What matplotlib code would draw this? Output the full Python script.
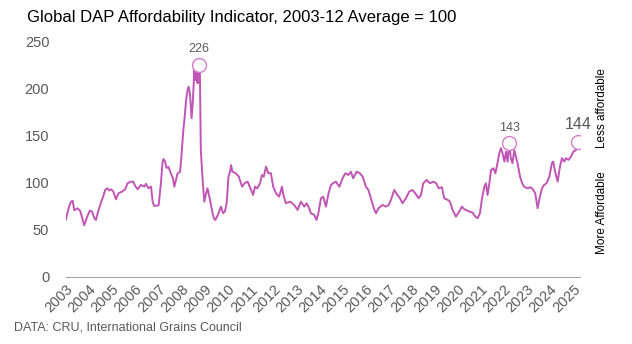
import numpy as np
import matplotlib as mpl
import matplotlib.pyplot as plt

# Plotting setup
mpl.rc('font',family=['Liberation Sans','DejaVu Sans'])
lncolor='#c055b5'
txcolor='#595959'

# DAP affordability index, 2003-12 average = 100
yrs=[2003.00,2003.04,2003.15,2003.22,2003.29,2003.36,2003.43,2003.50,2003.61,2003.69,
     2003.79,2003.87,2003.95,2004.04,2004.13,2004.23,2004.30,2004.41,2004.56,2004.62,
     2004.70,2004.80,2004.88,2004.95,2005.05,2005.17,2005.28,2005.43,2005.57,2005.67,
     2005.82,2005.92,2006.00,2006.11,2006.25,2006.40,2006.47,2006.58,2006.69,2006.76,
     2006.83,2006.95,2007.02,2007.08,2007.12,2007.19,2007.23,2007.30,2007.36,2007.45,
     2007.55,2007.64,2007.70,2007.78,2007.84,2007.95,2008.03,2008.09,2008.15,2008.21,
     2008.27,2008.32,2008.38,2008.45,2008.50,2008.57,2008.62,2008.66,2008.71,2008.75,
     2008.81,2008.85,2008.93,2009.00,2009.07,2009.14,2009.22,2009.30,2009.36,2009.42,
     2009.48,2009.55,2009.62,2009.72,2009.82,2009.90,2009.97,2010.05,2010.12,2010.16,
     2010.22,2010.37,2010.50,2010.64,2010.75,2010.88,2011.03,2011.12,2011.20,2011.30,
     2011.42,2011.50,2011.58,2011.68,2011.78,2011.89,2011.99,2012.11,2012.25,2012.37,
     2012.43,2012.54,2012.72,2012.90,2013.05,2013.19,2013.34,2013.44,2013.55,2013.62,
     2013.77,2013.87,2013.95,2014.06,2014.16,2014.28,2014.39,2014.50,2014.60,2014.71,
     2014.86,2015.00,2015.12,2015.26,2015.36,2015.46,2015.61,2015.75,2015.87,2016.01,
     2016.12,2016.23,2016.38,2016.45,2016.56,2016.73,2016.88,2017.00,2017.10,2017.24,
     2017.38,2017.49,2017.60,2017.75,2017.89,2018.03,2018.15,2018.30,2018.40,2018.50,
     2018.65,2018.79,2018.94,2019.06,2019.17,2019.31,2019.41,2019.56,2019.66,2019.77,
     2019.92,2020.06,2020.18,2020.28,2020.50,2020.64,2020.76,2020.86,2020.96,2021.05,
     2021.15,2021.22,2021.29,2021.37,2021.44,2021.54,2021.63,2021.72,2021.80,2021.87,
     2021.94,2022.02,2022.09,2022.16,2022.23,2022.30,2022.37,2022.45,2022.52,2022.59,
     2022.70,2022.79,2022.88,2023.02,2023.17,2023.27,2023.36,2023.46,2023.53,2023.65,
     2023.75,2023.85,2023.97,2024.08,2024.14,2024.22,2024.33,2024.43,2024.52,2024.62,
     2024.69,2024.80,2024.91,2025.01,2025.13,2025.19,2025.23]
idx=[61,66,76,80,81,71,72,73,70.5,64,
     55,60.6,66,70.5,69.5,62.4,60.6,71,82,86,
     92.5,94.3,92,93.3,91,82.6,89,90.8,93.3,99.7,
     101.4,101.4,97,93.3,97.9,96,99,94.3,96,80,
     75.5,76,76.2,90,100,122,125.5,122.7,116,117,
     110,105,96,104,110,112,135,156,170,188,
     198,202.5,195,168.8,185,220,209.6,218.4,206,226,
     216.7,135,103,80,88,94.3,85.4,75,67.8,62,
     60.6,64,67.8,74.8,67.8,70,78.4,106.7,112,119,
     112,110.3,106.7,96,99.7,101.4,92.5,87.2,96,94.3,
     99.7,108.5,106.7,117.3,110.3,110.3,96,89,85.4,96,
     87.2,78.4,80.1,76.6,71.3,80.1,74.8,78.4,73.1,67.8,
     66,60.6,67.8,83.7,85.4,74.8,89,97.9,100,101.4,
     96,105,110.3,108.5,112,105,112,110.3,106.7,96,
     92.5,83.7,71.3,67.8,73.1,76.6,74.8,76.6,82,92.5,
     87.2,83.7,78.4,83.7,90.8,92.5,89,83.7,87.2,99.7,
     103.2,99.7,101.4,99.7,94.3,95.4,83.7,82,80.1,71.3,
     64.2,69.5,74.8,72,69.5,68.4,64.2,62.4,67.8,83.7,
     96,99.7,87.2,99.7,113.8,115.6,110.3,121,131.6,137,
     131.6,122.7,133.3,122.7,143,126.3,121,135,128,121,
     106.7,99.7,96,94.3,95.4,92.5,89,73.1,82,94.3,
     98,99.7,106.7,121,122.7,112,101.4,117.3,126.3,122.7,
     126.3,124.5,128,133.3,135,138.6,144]

# Highlighted peaks
pkyrs=[2008.75,2022.23,2025.23]
pkval=[226,143,144]
pksize=[9,9,11.5]
pkoff=[7,6,7]

years=list(range(2003,2026))

fig=plt.figure(figsize=(6.32,3.44),dpi=100)
ax=fig.add_axes([0.1044,0.195,0.8133,0.683])
ax.plot(yrs,idx,color=lncolor,lw=1.4,zorder=2)
ax.plot(pkyrs,pkval,ls='none',marker='o',ms=10,mfc='white',mec='#d57cc9',mew=1.0,zorder=3)
for x,v,fs,off in zip(pkyrs,pkval,pksize,pkoff):
    ax.annotate('%d' %v,(x,v),xytext=(0,off),textcoords='offset points',
                ha='center',va='bottom',fontsize=fs,color=txcolor)

ax.set_xlim(2003.0,2025.3)
ax.set_ylim(0,250)
ax.set_yticks(np.arange(0,251,50))
ax.set_xticks(years)
ax.set_xticklabels([str(y) for y in years],rotation=45,ha='right',rotation_mode='anchor')
ax.tick_params(axis='both',length=0,labelsize=10.5,labelcolor=txcolor)
ax.tick_params(axis='y',pad=12)
ax.tick_params(axis='x',pad=4)
for sp in ['top','right','left']:
    ax.spines[sp].set_visible(False)
ax.spines['bottom'].set_color('#a6a6a6')

fig.text(0.043,0.948,'Global DAP Affordability Indicator, 2003-12 Average = 100',
         fontsize=12,color='black',va='center')
fig.text(0.022,0.047,'DATA: CRU, International Grains Council',fontsize=9,color=txcolor,va='center')
fig.text(0.953,0.686,'Less affordable',rotation=90,fontsize=8.5,ha='center',va='center')
fig.text(0.953,0.381,'More Affordable',rotation=90,fontsize=8.5,ha='center',va='center')

fig.savefig('out.png',dpi=100)
plt.close()
